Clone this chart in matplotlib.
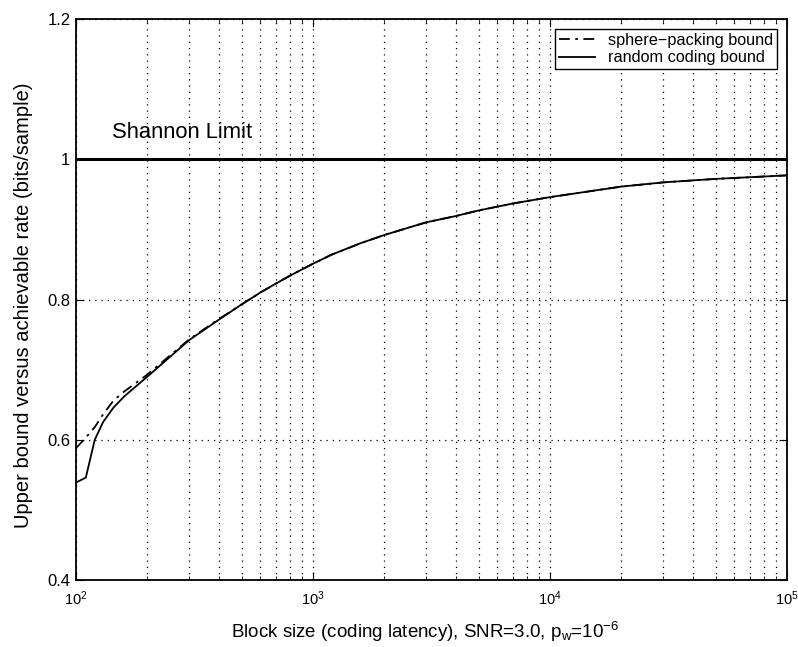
import matplotlib
matplotlib.use("Agg")
import matplotlib.pyplot as plt
from matplotlib.ticker import LogLocator, FixedLocator

plt.rcParams['font.family'] = ['Liberation Sans', 'DejaVu Sans']
plt.rcParams['mathtext.fontset'] = 'custom'
plt.rcParams['mathtext.rm'] = 'Liberation Sans'
plt.rcParams['mathtext.it'] = 'Liberation Sans'

# Data
block_size = [100, 110, 120, 130, 144, 160, 200, 300, 400, 500, 600, 700, 800, 900,
              1000, 1200, 1580, 2000, 3000, 4000, 5000, 7000, 10000, 20000, 30000, 50000, 100000]
random_coding = [0.539, 0.546, 0.600, 0.625, 0.646, 0.662, 0.690, 0.742, 0.771, 0.793,
                 0.810, 0.823, 0.834, 0.843, 0.851, 0.864, 0.880, 0.892, 0.910, 0.919,
                 0.927, 0.937, 0.946, 0.961, 0.967, 0.972, 0.977]
sphere_packing = [0.588, 0.603, 0.618, 0.636, 0.656, 0.669, 0.693, 0.743, 0.772, 0.793,
                  0.810, 0.823, 0.834, 0.843, 0.851, 0.864, 0.880, 0.892, 0.910, 0.919,
                  0.927, 0.937, 0.946, 0.961, 0.967, 0.972, 0.977]
shannon_x = [100, 100000]
shannon_y = [1.0, 1.0]
y_ticks = [0.4, 0.6, 0.8, 1.0, 1.2]
y_tick_labels = ["0.4", "0.6", "0.8", "1", "1.2"]

fig = plt.figure(figsize=(7.98, 6.47), dpi=100)
ax = fig.add_axes([76/798, 1-580/647, (787-76)/798, (580-19)/647])

ax.plot(block_size, sphere_packing, color='black', linestyle=(0, (6, 3, 1.5, 3)), linewidth=1.3,
        label='sphere\u2212packing bound')
ax.plot(block_size, random_coding, color='black', linestyle='-', linewidth=1.3,
        label='random coding bound')
ax.plot(shannon_x, shannon_y, color='black', linestyle='-', linewidth=2.2)

ax.set_xscale('log')
ax.set_xlim(100, 100000)
ax.set_ylim(0.4, 1.2)
ax.yaxis.set_major_locator(FixedLocator(y_ticks))
ax.set_yticklabels(y_tick_labels)
ax.xaxis.set_major_locator(LogLocator(base=10, numticks=10))
ax.xaxis.set_minor_locator(LogLocator(base=10, subs=range(2, 10), numticks=20))

ax.grid(True, which='major', axis='both', linestyle=(0, (1, 4)), color='black', linewidth=0.9)
ax.grid(True, which='minor', axis='x', linestyle=(0, (1, 4)), color='black', linewidth=0.9)

ax.tick_params(which='both', direction='in', top=True, right=True)
ax.tick_params(axis='x', labelsize=10.5, pad=7)
ax.tick_params(axis='y', labelsize=12, pad=4)
ax.tick_params(which='major', length=6)
ax.tick_params(which='minor', length=3)
for s in ax.spines.values():
    s.set_linewidth(1.3)

ax.text(142, 1.03, 'Shannon Limit', fontsize=15.8)

ax.set_xlabel('Block size (coding latency), SNR=3.0, p$_\\mathregular{w}$=10$^{\\mathregular{-6}}$',
              fontsize=13.5)
ax.xaxis.set_label_coords(0.491, -0.072)
ax.set_ylabel('Upper bound versus achievable rate (bits/sample)', fontsize=14.5)
ax.yaxis.set_label_coords(-0.061, 0.49)

leg = ax.legend(loc='upper right', fontsize=11.7, frameon=True, fancybox=False,
                edgecolor='black', framealpha=1, borderpad=0.25, labelspacing=0.15,
                handlelength=2.2, borderaxespad=0.6)
leg.get_frame().set_linewidth(1.0)

fig.savefig('out.png', dpi=100)
